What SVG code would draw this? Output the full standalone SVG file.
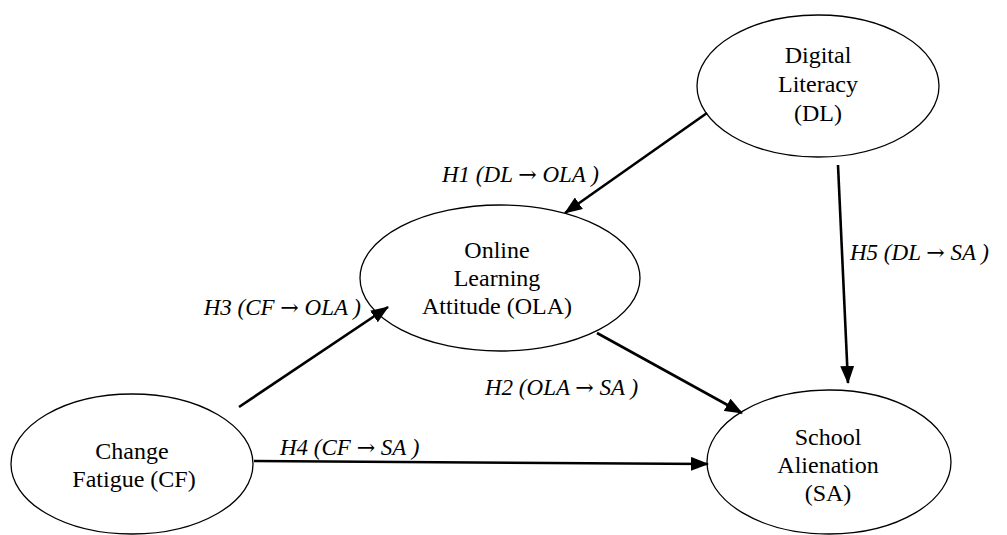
<svg xmlns="http://www.w3.org/2000/svg" width="1007" height="535" viewBox="0 0 1007 535">
<style>
.node ellipse{fill:#fff;stroke:#000;stroke-width:1.3}
.node text{font-family:"Liberation Serif","Times New Roman",serif;font-size:24px;text-anchor:middle;fill:#000}
.lbl{font-family:"Liberation Serif","Times New Roman",serif;font-size:23px;font-style:italic;fill:#000}
.arr{font-family:"DejaVu Serif",serif;font-style:normal;font-size:22px}
.edge{stroke:#000;stroke-width:2.6;fill:none;marker-end:url(#ah)}
</style>
<defs>
<marker id="ah" markerUnits="userSpaceOnUse" markerWidth="18" markerHeight="14" refX="17" refY="7" orient="auto">
<path d="M0,0 L18,7 L0,14 Z" fill="#000"/>
</marker>
</defs>
<rect width="1007" height="535" fill="#fff"/>
<g id="node-dl" class="node">
<ellipse cx="818" cy="86" rx="121" ry="71"/>
<text x="818" y="63">Digital</text>
<text x="818" y="92">Literacy</text>
<text x="818" y="121">(DL)</text>
</g>
<g id="node-ola" class="node">
<ellipse cx="500" cy="278" rx="140" ry="73"/>
<text x="497" y="258">Online</text>
<text x="497" y="286">Learning</text>
<text x="497" y="314">Attitude (OLA)</text>
</g>
<g id="node-cf" class="node">
<ellipse cx="132" cy="464" rx="121" ry="70"/>
<text x="132" y="459">Change</text>
<text x="134" y="487">Fatigue (CF)</text>
</g>
<g id="node-sa" class="node">
<ellipse cx="829" cy="462" rx="122" ry="72"/>
<text x="828" y="445">School</text>
<text x="828" y="473">Alienation</text>
<text x="828" y="501">(SA)</text>
</g>
<g id="connectors">
<line class="edge" x1="707" y1="113" x2="565" y2="213"/>
<line class="edge" x1="239" y1="407" x2="388" y2="307"/>
<line class="edge" x1="597" y1="333" x2="742" y2="413"/>
<line class="edge" x1="254" y1="461" x2="708" y2="464"/>
<line class="edge" x1="838" y1="165" x2="848" y2="383"/>
<text class="lbl" x="442" y="182">H1 (DL <tspan class="arr">→</tspan> OLA )</text>
<text class="lbl" x="361" y="315" text-anchor="end">H3 (CF <tspan class="arr">→</tspan> OLA )</text>
<text class="lbl" x="485" y="395">H2 (OLA <tspan class="arr">→</tspan> SA )</text>
<text class="lbl" x="280" y="455">H4 (CF <tspan class="arr">→</tspan> SA )</text>
<text class="lbl" x="850" y="260">H5 (DL <tspan class="arr">→</tspan> SA )</text>
</g>
</svg>
